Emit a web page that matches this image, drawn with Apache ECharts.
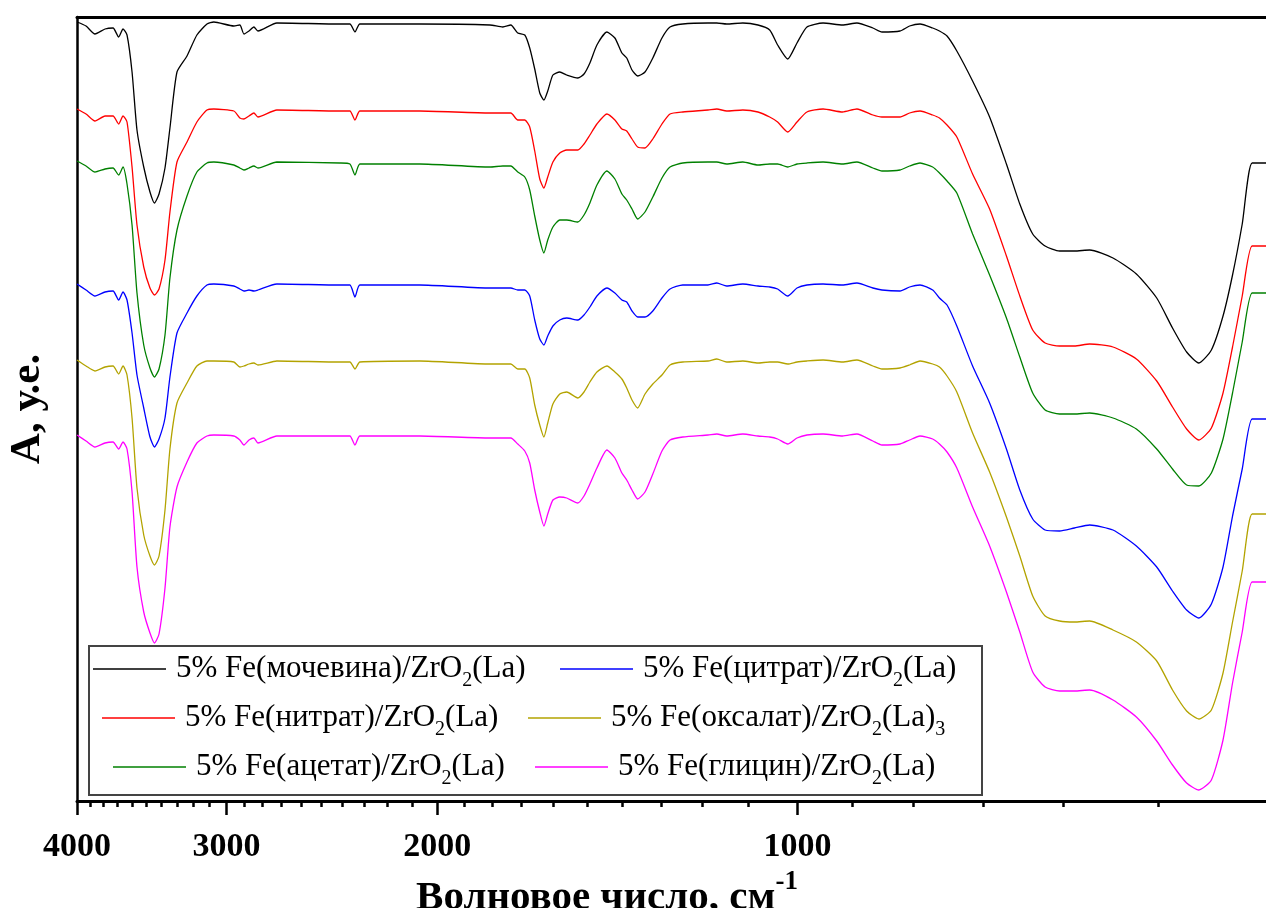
<!DOCTYPE html>
<html><head><meta charset="utf-8">
<script src="https://cdn.jsdelivr.net/npm/echarts@6/dist/echarts.min.js"></script>
<style>html,body{margin:0;padding:0;background:#fff}#c{width:1266px;height:908px}</style>
</head><body><div id="c"></div>
<script>
// Wavenumbers, cm^-1 (x axis drawn on a logarithmic scale)
const wavenumbers = [4000,3931,3864,3790,3732,3692,3661,3633,3598,3564,
3518,3476,3446,3416,3377,3345,3300,3237,3176,3115,
3074,2958,2924,2901,2873,2846,2824,2723,2412,2366,
2343,2321,2068,1807,1763,1736,1713,1690,1674,1658,
1642,1629,1617,1601,1580,1559,1526,1508,1491,1471,
1443,1421,1402,1389,1375,1360,1341,1321,1298,1278,
1247,1188,1168,1146,1111,1079,1055,1039,1019,1001,
982,952,917,892,865,850,821,806,790,771,
761,750,736,714,691,669,652,636,621,604,
587,570,545,521,501,486,473,462,451,441,
433,425,417,406];

// Series values (arbitrary units, stacked offsets as in the figure)
const urea = [779,775,767,772,773,764,772,766,729,671,
634,609,598,607,633,673,729,745,766,777,
779,775,776,767,770,774,770,778,777,777,
769,777,777,776,774,776,768,766,753,732,
708,701,710,726,729,726,723,727,738,756,
769,763,748,743,731,725,729,743,763,774,
777,778,778,777,778,776,771,756,742,758,
774,778,776,778,773,769,770,775,777,773,
770,765,750,720,684,637,597,567,555,550,
550,551,543,527,503,473,449,438,451,485,
526,577,638,638];
const nitrate = [692,687,680,685,685,677,685,679,634,576,
534,513,506,512,541,589,639,659,679,691,
692,690,683,682,685,688,684,691,690,690,
681,690,690,688,688,688,681,681,674,650,
622,613,624,639,648,651,651,657,666,677,
687,681,672,670,662,654,653,662,677,687,
689,691,692,690,691,689,684,679,669,679,
689,692,689,692,686,684,684,688,690,686,
683,676,664,627,592,545,505,471,458,455,
455,457,454,442,420,394,372,361,373,408,
454,505,555,555];
const acetate = [640,635,629,632,633,626,634,617,576,508,
456,433,424,432,466,523,571,605,629,638,
639,636,633,631,633,635,633,639,638,637,
626,637,637,634,635,635,629,624,611,585,
561,548,561,574,581,581,579,586,598,616,
630,622,607,601,592,582,589,604,623,634,
638,639,639,637,639,636,637,637,634,637,
638,639,637,639,633,630,631,635,638,634,
628,620,608,567,526,483,444,408,391,387,
387,388,383,372,352,332,316,315,328,362,
408,459,508,508];
const citrate = [517,511,505,509,510,501,509,501,468,426,
393,364,354,362,383,424,468,488,505,516,
517,515,512,510,511,510,511,517,516,516,
504,516,516,513,513,513,511,511,505,481,
462,456,465,475,481,483,481,486,494,505,
513,508,501,499,490,484,484,490,503,512,
516,516,518,515,517,515,514,512,505,513,
516,517,516,518,513,511,510,514,516,511,
503,496,475,435,398,352,311,282,271,270,
273,276,271,255,234,210,191,183,197,234,
285,332,382,382];
const oxalate = [441,435,430,434,435,427,435,426,383,313,
266,245,236,245,291,352,398,418,435,440,
440,439,434,435,437,438,436,440,439,439,
432,439,440,437,437,437,432,432,423,396,
376,364,378,397,407,409,403,409,419,429,
435,429,422,413,401,393,407,417,426,436,
439,440,442,439,440,438,439,439,437,439,
440,441,439,441,435,432,433,436,440,437,
434,425,409,368,329,284,245,205,185,180,
179,180,171,159,140,111,90,82,91,128,
179,230,287,287];
const glycine = [366,360,354,358,359,352,359,352,309,234,
189,168,158,167,213,274,314,339,358,365,
366,365,361,356,361,363,358,365,365,365,
356,365,365,363,363,363,357,350,338,311,
289,275,287,301,304,303,298,305,317,333,
351,343,328,321,311,302,309,327,350,361,
364,366,367,365,367,365,364,362,357,363,
366,367,365,367,360,356,357,361,365,362,
357,349,333,294,255,209,169,129,114,110,
110,111,101,84,60,36,18,11,21,61,
118,169,219,219];

const seriesNames = [
  '5% Fe(мочевина)/ZrO2(La)',
  '5% Fe(нитрат)/ZrO2(La)',
  '5% Fe(ацетат)/ZrO2(La)',
  '5% Fe(цитрат)/ZrO2(La)',
  '5% Fe(оксалат)/ZrO2(La)3',
  '5% Fe(глицин)/ZrO2(La)'
];
const majorTicks = [4000, 3000, 2000, 1000];
const minorTicks = [3900,3800,3700,3600,3500,3400,3300,3200,3100,
  2900,2800,2700,2600,2500,2400,2300,2200,2100,
  1900,1800,1700,1600,1500,1400,1300,1200,1100,
  900,800,700,600,500];
const xTitle = 'Волновое число, см';
const xTitleSup = '-1';
const yTitle = 'A, у.е.';

const allValues = [urea, nitrate, acetate, citrate, oxalate, glycine];
const colors = ['#000000', '#ff0000', '#008000', '#0000ff', '#b3a300', '#ff00ff'];
const SERIF = '"Liberation Serif", "Times New Roman", serif';
const L = v => Math.log10(v);
const xMin = L(406), xMax = L(4000);

const legendPos = [
  {left: 93, top: 653.5}, {left: 102, top: 702.5}, {left: 113, top: 751.5},
  {left: 560, top: 653.5}, {left: 528, top: 702.5}, {left: 535, top: 751.5}
];

const chart = echarts.init(document.getElementById('c'));
const baseX = {type: 'value', gridIndex: 0, min: xMin, max: xMax, inverse: true, splitLine: {show: false}};

const option = {
  animation: false,
  backgroundColor: '#fff',
  grid: {left: 77, right: 0, top: 17, bottom: 107, containLabel: false, outerBoundsMode: 'none'},
  xAxis: [
    Object.assign({}, baseX, {
      position: 'bottom',
      axisLine: {show: true, onZero: false, lineStyle: {color: '#000', width: 3}},
      axisTick: {show: true, customValues: majorTicks.map(L), length: 14, lineStyle: {color: '#000', width: 2.5}},
      axisLabel: {show: true, customValues: majorTicks.map(L), formatter: v => String(Math.round(Math.pow(10, v))),
        fontSize: 34, fontWeight: 'bold', fontFamily: SERIF, color: '#000', margin: 29},
      name: xTitle + '{sup|' + xTitleSup + '}',
      nameLocation: 'middle', nameGap: 38,
      nameTextStyle: {fontSize: 41, lineHeight: 60, fontWeight: 'bold', fontFamily: SERIF, color: '#000', padding: [0, 129, 0, 0],
        rich: {sup: {fontSize: 27, lineHeight: 27, verticalAlign: 'top', fontWeight: 'bold', fontFamily: SERIF, color: '#000'}}}
    }),
    Object.assign({}, baseX, {
      position: 'bottom',
      axisLine: {show: false, onZero: false},
      axisTick: {show: true, customValues: minorTicks.map(L), length: 6, lineStyle: {color: '#000', width: 2.5}},
      axisLabel: {show: false}
    }),
    Object.assign({}, baseX, {
      position: 'top',
      axisLine: {show: true, onZero: false, lineStyle: {color: '#000', width: 3}},
      axisTick: {show: false}, axisLabel: {show: false}
    })
  ],
  yAxis: {
    type: 'value', min: 0, max: 784,
    axisLine: {show: true, onZero: false, lineStyle: {color: '#000', width: 2.5}},
    axisTick: {show: false}, axisLabel: {show: false}, splitLine: {show: false},
    name: yTitle, nameLocation: 'middle', nameGap: 28,
    nameTextStyle: {fontSize: 43, fontWeight: 'bold', fontFamily: SERIF, color: '#000'}
  },
  legend: seriesNames.map((n, i) => ({
    data: [n], left: legendPos[i].left, top: legendPos[i].top, padding: 0,
    icon: 'rect', itemWidth: 73, itemHeight: 1.5, selectedMode: false, z: 5,
    formatter: name => name.replace('ZrO2', 'ZrO{s|2}').replace(')3', '){s|3}'),
    textStyle: {fontSize: 31, fontFamily: SERIF, color: '#000', padding: [0, 0, 0, 5],
      rich: {s: {fontSize: 20, fontFamily: SERIF, color: '#000', padding: [24, 0, 0, 0]}}}
  })),
  graphic: [{
    type: 'rect', z: 3, silent: true,
    shape: {x: 89, y: 646, width: 893, height: 149},
    style: {fill: '#fff', stroke: '#444', lineWidth: 2}
  }],
  series: seriesNames.map((n, i) => ({
    name: n, type: 'line', xAxisIndex: 0, yAxisIndex: 0,
    data: wavenumbers.map((w, j) => [L(w), allValues[i][j]]),
    symbol: 'none', smooth: 0.2,
    lineStyle: {color: colors[i], width: 1.3},
    itemStyle: {color: colors[i]}
  }))
};
chart.setOption(option);
</script></body></html>
